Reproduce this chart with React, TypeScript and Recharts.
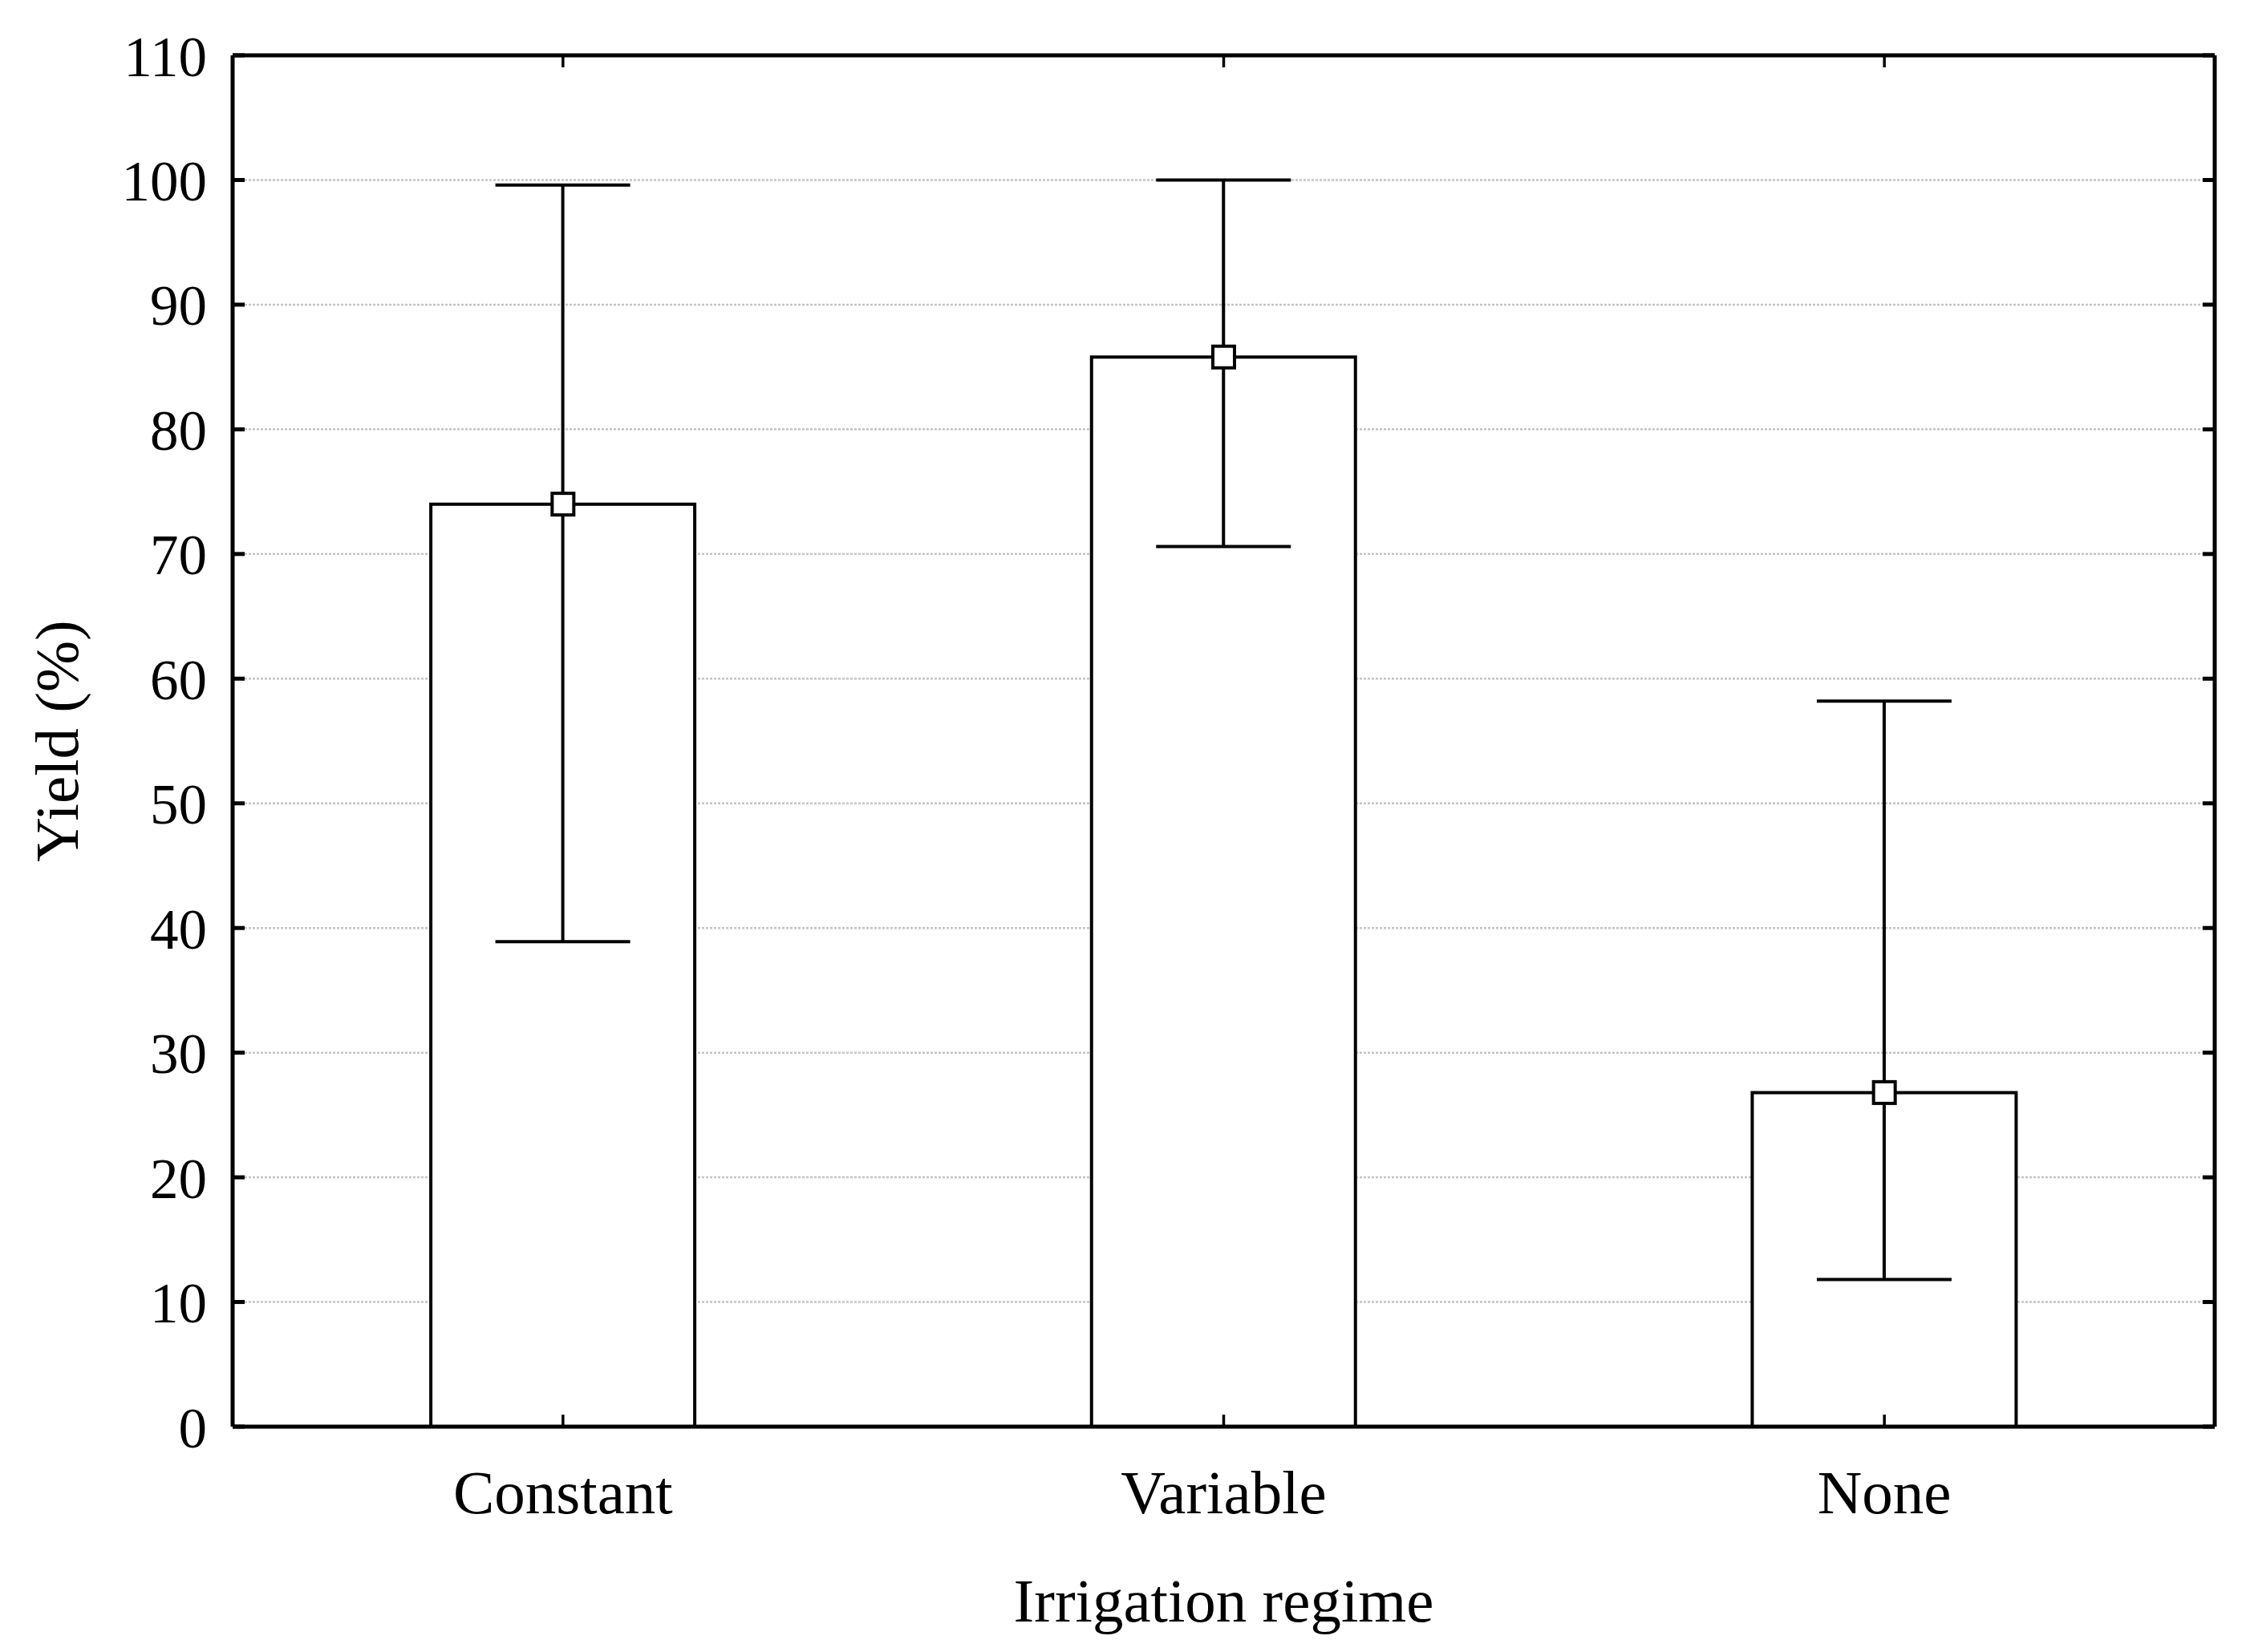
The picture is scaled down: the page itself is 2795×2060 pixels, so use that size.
import React from "react"
import { Bar, ComposedChart, CartesianGrid, ErrorBar, Line, XAxis, YAxis } from "recharts"

const regimes = ["Constant", "Variable", "None"]
const meanYield = [74.0, 85.8, 26.8]
const upperYield = [99.6, 100.0, 58.2]
const lowerYield = [38.9, 70.6, 11.8]
const yTicks = [0, 10, 20, 30, 40, 50, 60, 70, 80, 90, 100, 110]

const data = regimes.map((name, i) => ({
  name,
  mean: meanYield[i],
  err: [meanYield[i] - lowerYield[i], upperYield[i] - meanYield[i]],
}))

const FONT = "'Liberation Serif', 'Times New Roman', serif"
const TICK_LEN = 15
const Y_MARGIN = 32
const X_MARGIN = 53

function SquareDot(props: any) {
  const { cx, cy } = props
  if (cx == null || cy == null) return null
  const s = 27
  return <rect x={cx - s / 2} y={cy - s / 2} width={s} height={s} fill="#fff" stroke="#000" strokeWidth={4} />
}

// left axis: inward tick mark plus label
function YTick(props: any) {
  const { x, y, payload } = props
  const ax = x + Y_MARGIN
  return (
    <g>
      <line x1={ax} x2={ax + TICK_LEN} y1={y} y2={y} stroke="#000" strokeWidth={5} />
      <text x={x} y={y} dy="0.36em" textAnchor="end" fontSize={71} fontFamily={FONT} fill="#000">
        {payload.value}
      </text>
    </g>
  )
}

// bottom axis: inward tick mark plus label
function XTick(props: any) {
  const { x, y, payload } = props
  const ay = y - X_MARGIN
  return (
    <g>
      <line x1={x} x2={x} y1={ay} y2={ay - TICK_LEN} stroke="#000" strokeWidth={3.5} />
      <text x={x} y={y} dy="0.71em" textAnchor="middle" fontSize={77} fontFamily={FONT} fill="#000">
        {payload.value}
      </text>
    </g>
  )
}

function YTitle(props: any) {
  const vb = props.viewBox || {}
  const cy = (vb.y ?? 0) + (vb.height ?? 0) / 2
  return (
    <text transform={`translate(97, ${cy}) rotate(-90)`} textAnchor="middle" fontSize={77} fontFamily={FONT} fill="#000">
      Yield (%)
    </text>
  )
}

export default function App() {
  const axisLine = { stroke: "#000", strokeWidth: 5 }
  const tickLine = { stroke: "#000", strokeWidth: 5 }
  return (
    <div style={{ position: "absolute", left: 0, top: 0 }}>
      <ComposedChart
        width={2795}
        height={2060}
        data={data}
        barCategoryGap="30%"
        margin={{ top: 69, right: 34, bottom: 0, left: 0 }}
        style={{ fontFamily: FONT }}
      >
        <CartesianGrid
          yAxisId="left"
          xAxisId="bottom"
          vertical={false}
          stroke="#c4c4c4"
          strokeWidth={2.5}
          strokeDasharray="3 2"
        />
        <XAxis
          xAxisId="bottom"
          dataKey="name"
          type="category"
          height={281}
          axisLine={axisLine}
          tickLine={false}
          tickSize={0}
          tickMargin={X_MARGIN}
          tick={<XTick />}
          label={{ value: "Irrigation regime", position: "insideBottom", offset: 38, fill: "#000", fontSize: 77, fontFamily: FONT }}
        />
        <XAxis
          xAxisId="top"
          orientation="top"
          dataKey="name"
          type="category"
          height={1}
          mirror
          axisLine={axisLine}
          tickLine={{ stroke: "#000", strokeWidth: 3.5 }}
          tickSize={TICK_LEN}
          tickFormatter={() => ""}
        />
        <YAxis
          yAxisId="left"
          type="number"
          domain={[0, 110]}
          ticks={yTicks}
          interval={0}
          width={290}
          axisLine={axisLine}
          tickLine={false}
          tickSize={0}
          tickMargin={Y_MARGIN}
          tick={<YTick />}
          label={<YTitle />}
        />
        <YAxis
          yAxisId="right"
          orientation="right"
          type="number"
          domain={[0, 110]}
          ticks={yTicks}
          interval={0}
          width={1}
          mirror
          axisLine={axisLine}
          tickLine={tickLine}
          tickSize={TICK_LEN}
          tickFormatter={() => ""}
        />
        <Bar
          xAxisId="bottom"
          yAxisId="left"
          dataKey="mean"
          fill="#fff"
          stroke="#000"
          strokeWidth={4}
          isAnimationActive={false}
        >
          <ErrorBar dataKey="err" direction="y" width={84} stroke="#000" strokeWidth={4} />
        </Bar>
        <Line
          xAxisId="bottom"
          yAxisId="left"
          dataKey="mean"
          stroke="none"
          dot={<SquareDot />}
          activeDot={false}
          isAnimationActive={false}
        />
        <Line
          xAxisId="top"
          yAxisId="right"
          dataKey="mean"
          stroke="none"
          dot={false}
          activeDot={false}
          isAnimationActive={false}
        />
      </ComposedChart>
    </div>
  )
}
